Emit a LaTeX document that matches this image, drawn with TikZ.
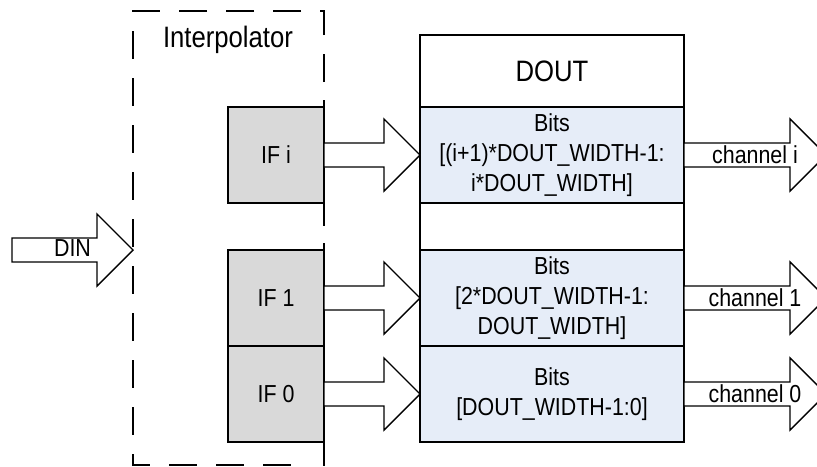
\documentclass[tikz,border=0pt]{standalone}
\usepackage{fontspec}
\setmainfont{Liberation Sans}[FakeStretch=0.87]
\usetikzlibrary{positioning,calc}

\definecolor{ifgray}{HTML}{D9D9D9}
\definecolor{bitsblue}{HTML}{E6EDF8}

\tikzset{
    big/.style={font=\fontsize{21}{25}\selectfont},
    small/.style={font=\fontsize{17.5}{21.3}\selectfont},
    ifbox/.style={draw, fill=ifgray, small, outer sep=0pt,
        minimum width=24mm, minimum height=24mm},
    bitsbox/.style={draw, fill=bitsblue, small, align=center, outer sep=0pt,
        minimum width=66mm, minimum height=24mm, inner sep=0pt},
    fat/.style={draw, fill=white, line width=1pt, line join=miter}
}

% block arrow: #1 -> #2 (horizontal)
\newcommand{\blockarrow}[2]{%
    \draw[fat] let \p1=(#1), \p2=(#2) in
        (\x1,\y1+3mm) -- (\x2-9mm,\y1+3mm) -- (\x2-9mm,\y1+9mm) -- (\x2,\y1)
        -- (\x2-9mm,\y1-9mm) -- (\x2-9mm,\y1-3mm) -- (\x1,\y1-3mm) -- cycle;
}

\begin{document}
\begin{tikzpicture}[x=0.25mm, y=-0.25mm, line width=1pt]
    \useasboundingbox (0,0) rectangle (817,466);

    % Interpolator
    \draw[dash pattern=on 7mm off 4.75mm] (324,82) -- (324,11) -- (133,11)
        -- (133,465) -- (308,465);
    \draw (324,100) -- (324,226);
    \draw (324,243) -- (324,466);
    \node[big] (interp) at (228,40) {Interpolator};

    \node[ifbox] (ifi) at (276,155) {IF i};
    \node[ifbox] (ifone) at (276,298) {IF 1};
    \node[ifbox, below=0pt of ifone] (ifzero) {IF 0};

    % DOUT
    \node[draw, big, outer sep=0pt, minimum width=66mm, minimum height=18mm]
        (dout) at (552,71) {DOUT};
    \node[bitsbox, below=0pt of dout] (bitsi)
        {Bits\\{[}(i+1)*DOUT\_WIDTH-1:\\i*DOUT\_WIDTH{]}};
    \node[bitsbox] (bitsone) at (552,298) {Bits\\{[}2*DOUT\_WIDTH-1:\\DOUT\_WIDTH{]}};
    \node[bitsbox, below=0pt of bitsone] (bitszero) {Bits\\{[}DOUT\_WIDTH-1:0{]}};
    \draw (dout.north west) rectangle (bitszero.south east);

    % DIN
    \coordinate (dinstart) at (12,250);
    \coordinate (dinend) at (133,250);
    \blockarrow{dinstart}{dinend}
    \node[small] (din) at ($(dinstart)!0.5!(dinend)+(0,-2)$) {DIN};

    % IF -> Bits
    \foreach \src/\dst in {ifi/bitsi, ifone/bitsone, ifzero/bitszero} {
        \blockarrow{\src.east}{\dst.west}
    }

    % channels
    \foreach \bits/\name/\label in {bitsi/chi/i, bitsone/chone/1, bitszero/chzero/0} {
        \coordinate (\name) at ($(\bits.east)+(142,0)$);
        \blockarrow{\bits.east}{\name}
        \node[small] at ($(\bits.east)!0.5!(\name)$) {channel \label};
    }
\end{tikzpicture}
\end{document}
